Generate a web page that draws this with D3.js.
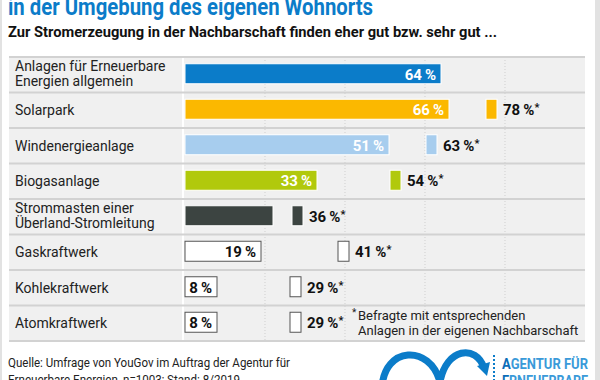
<!DOCTYPE html>
<html>
<head>
<meta charset="utf-8">
<script src="https://cdn.jsdelivr.net/npm/d3@7"></script>
<style>
  body { margin: 0; background: #fff; }
  svg { display: block; font-family: Roboto, "Noto Sans", sans-serif; }
</style>
</head>
<body>
<div id="chart"></div>
<script>
var categories = ["Anlagen für Erneuerbare|Energien allgemein", "Solarpark", "Windenergieanlage", "Biogasanlage",
  "Strommasten einer|Überland-Stromleitung", "Gaskraftwerk", "Kohlekraftwerk", "Atomkraftwerk"];
// alle Befragten
var allValues = [64, 66, 51, 33, 22, 19, 8, 8];
var allLabels = [64, 66, 51, 33, null, 19, 8, 8];
// Befragte mit Anlagen in der Nachbarschaft
var nearValues = [null, 78, 63, 54, 29.5, 41, 29, 29];
var nearLabels = [null, 78, 63, 54, 36, 41, 29, 29];
var rowColors = ["#0b7cc9", "#fbb800", "#a7cdee", "#b1c90c", "#3c4441", "#fff", "#fff", "#fff"];
var gridTicks = [20, 40, 60, 80];

function init() {
  var w = 600, h = 380;
  var left = 185, right = 585, top = 57, bottom = 341;

  var svg = d3.select("#chart").append("svg")
    .attr("width", w).attr("height", h);

  // frame
  svg.append("rect").attr("x", 0).attr("y", 0).attr("width", w).attr("height", h).attr("fill", "#fff");
  svg.append("rect").attr("x", 595).attr("y", 0).attr("width", 5).attr("height", h).attr("fill", "#e2e2e2");
  svg.append("rect").attr("x", 0).attr("y", 0).attr("width", 2).attr("height", h).attr("fill", "#e2e2e2");

  svg.append("text").attr("x", 8).attr("y", 15)
    .attr("font-size", "24px").attr("font-weight", "bold").attr("fill", "#0b7cc9")
    .attr("textLength", 365).attr("lengthAdjust", "spacingAndGlyphs")
    .text("in der Umgebung des eigenen Wohnorts");
  svg.append("text").attr("x", 8).attr("y", 37)
    .attr("font-size", "15px").attr("font-weight", "bold").attr("fill", "#111")
    .attr("textLength", 489).attr("lengthAdjust", "spacingAndGlyphs")
    .text("Zur Stromerzeugung in der Nachbarschaft finden eher gut bzw. sehr gut ...");

  var xScale = d3.scaleLinear().domain([0, 100]).range([left, right]);
  var yScale = d3.scaleBand().domain(d3.range(categories.length)).range([top, bottom]);

  // panel
  svg.append("rect").attr("x", 9).attr("y", top).attr("width", right - 9).attr("height", bottom - top)
    .attr("fill", "#f0f0f0");

  svg.append("g").selectAll("line").data(gridTicks).join("line")
    .attr("x1", function(d) { return xScale(d); }).attr("x2", function(d) { return xScale(d); })
    .attr("y1", top).attr("y2", bottom)
    .attr("stroke", "#cfcfcf").attr("stroke-dasharray", "1,2");

  svg.append("line").attr("x1", 183).attr("x2", 183).attr("y1", top).attr("y2", bottom)
    .attr("stroke", "#fff").attr("stroke-width", 2);

  svg.append("g").selectAll("line").data(d3.range(categories.length + 1)).join("line")
    .attr("x1", 9).attr("x2", right)
    .attr("y1", function(d) { return top + d * yScale.bandwidth(); })
    .attr("y2", function(d) { return top + d * yScale.bandwidth(); })
    .attr("stroke", "#d2d2d2").attr("stroke-width", 2);

  var rows = svg.append("g").selectAll("g").data(categories).join("g")
    .attr("transform", function(d, i) { return "translate(0," + (yScale(i) + yScale.bandwidth() / 2) + ")"; });

  rows.each(function(d, i) {
    var g = d3.select(this);
    var lines = d.split("|");
    var t = g.append("text").attr("x", 15).attr("font-size", "14px").attr("fill", "#222");
    lines.forEach(function(l, j) {
      t.append("tspan").attr("x", 15)
        .attr("y", lines.length == 1 ? 5 : (j == 0 ? -4 : 11.5))
        .text(l);
    });

    var white = rowColors[i] == "#fff";
    g.append("rect")
      .attr("x", xScale(0)).attr("y", -11)
      .attr("width", xScale(allValues[i]) - xScale(0)).attr("height", 20)
      .attr("fill", rowColors[i])
      .attr("stroke", white ? "#555" : "#fff").attr("stroke-width", 1);

    if (allLabels[i] != null) {
      g.append("text").attr("x", xScale(allValues[i]) - 5).attr("y", 5)
        .attr("text-anchor", "end").attr("font-size", "15px").attr("font-weight", "bold")
        .attr("fill", white ? "#111" : "#fff")
        .text(allLabels[i] + "\u2009%");
    }

    if (nearValues[i] != null) {
      g.append("rect")
        .attr("x", xScale(nearValues[i]) - 11).attr("y", -11)
        .attr("width", 11).attr("height", 20)
        .attr("fill", rowColors[i])
        .attr("stroke", white ? "#555" : "#fff").attr("stroke-width", 1);
      var lt = g.append("text").attr("x", xScale(nearValues[i]) + 6).attr("y", 5)
        .attr("font-size", "15px").attr("font-weight", "bold").attr("fill", "#111")
        .text(nearLabels[i] + "\u2009%");
      lt.append("tspan").attr("font-size", "11px").attr("dy", -4).text("*");
    }
  });

  // footnote
  var fn = svg.append("text").attr("font-size", "13px").attr("fill", "#222");
  fn.append("tspan").attr("x", 352).attr("y", 316).attr("font-size", "10px").text("*");
  fn.append("tspan").attr("x", 358).attr("y", 320).text("Befragte mit entsprechenden");
  fn.append("tspan").attr("x", 358).attr("y", 335).text("Anlagen in der eigenen Nachbarschaft");

  // source
  svg.append("text").attr("x", 8).attr("y", 367).attr("font-size", "13px").attr("fill", "#222")
    .attr("textLength", 282).attr("lengthAdjust", "spacingAndGlyphs")
    .text("Quelle: Umfrage von YouGov im Auftrag der Agentur für");
  svg.append("text").attr("x", 8).attr("y", 384).attr("font-size", "13px").attr("fill", "#222")
    .attr("textLength", 232).attr("lengthAdjust", "spacingAndGlyphs")
    .text("Erneuerbare Energien, n=1003; Stand: 8/2019");

  // logo
  svg.append("path")
    .attr("d", "M382,388 C384,346 430,344 440,382 M440,382 C446,348 476,344 484,368")
    .attr("fill", "none").attr("stroke", "#0b7cc9").attr("stroke-width", 7);
  svg.append("path").attr("d", "M477,366 L490,362 L487,376 Z").attr("fill", "#0b7cc9");
  svg.append("line").attr("x1", 494).attr("x2", 494).attr("y1", 355).attr("y2", 380)
    .attr("stroke", "#0b7cc9").attr("stroke-width", 2).attr("stroke-dasharray", "2,2");
  var logo = svg.append("text").attr("x", 502).attr("y", 369)
    .attr("font-size", "14px").attr("font-weight", "bold").attr("fill", "#3a9ad9")
    .attr("textLength", 86).attr("lengthAdjust", "spacingAndGlyphs");
  logo.append("tspan").attr("fill", "#0b6db8").text("A");
  logo.append("tspan").text("GENTUR FÜR");
  var logo2 = svg.append("text").attr("x", 502).attr("y", 386)
    .attr("font-size", "14px").attr("font-weight", "bold").attr("fill", "#3a9ad9")
    .attr("textLength", 86).attr("lengthAdjust", "spacingAndGlyphs");
  logo2.append("tspan").attr("fill", "#0b6db8").text("E");
  logo2.append("tspan").text("RNEUERBARE");
}

window.onload = init;
</script>
</body>
</html>
